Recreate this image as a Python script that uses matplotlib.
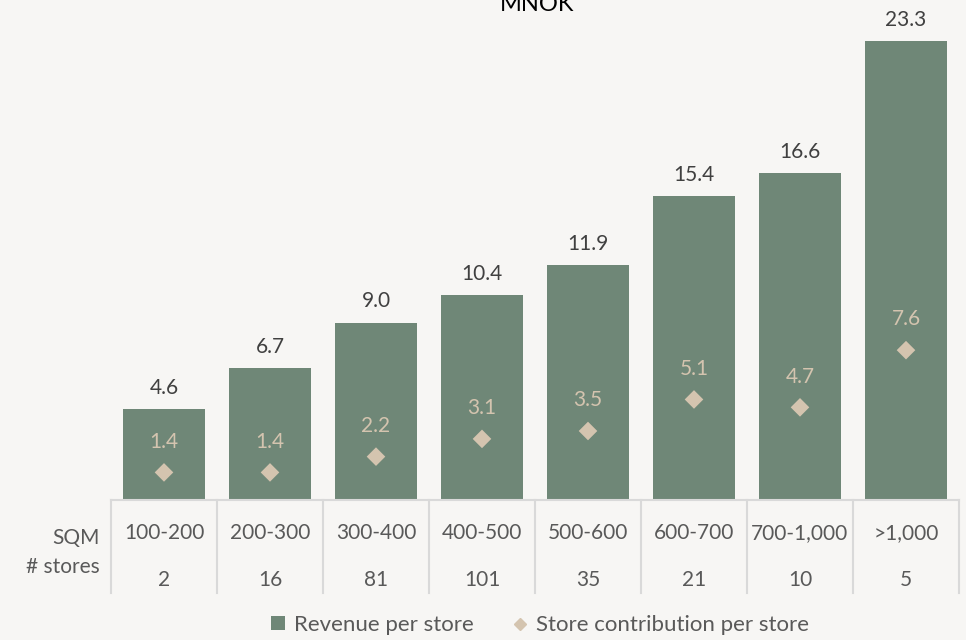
import matplotlib

matplotlib.use("Agg")
import matplotlib.pyplot as plt
import matplotlib.transforms as mtransforms
from matplotlib.lines import Line2D
from matplotlib.patches import Patch
import numpy as np

sqm_bands = ["100-200", "200-300", "300-400", "400-500", "500-600", "600-700", "700-1,000", ">1,000"]
store_counts = [2, 16, 81, 101, 35, 21, 10, 5]
revenue_per_store = [4.6, 6.7, 9.0, 10.4, 11.9, 15.4, 16.6, 23.3]
contribution_per_store = [1.4, 1.4, 2.2, 3.1, 3.5, 5.1, 4.7, 7.6]

BAR_COLOR = "#6F8777"
DIAMOND_COLOR = "#D4C4AF"
BG_COLOR = "#F7F6F4"
GRID_COLOR = "#D9D9D9"
TEXT_DARK = "#404040"
TEXT_GREY = "#595959"

plt.rcParams["font.family"] = ["Lato", "DejaVu Sans"]

W, H = 966, 640
fig = plt.figure(figsize=(W / 100, H / 100), dpi=100, facecolor=BG_COLOR)


def fy(px):
    # pixel row from the top -> figure fraction
    return 1 - px / H


ax = fig.add_axes([111 / W, fy(500), (959 - 111) / W, (500 - 17) / H])
ax.set_facecolor(BG_COLOR)

x = np.arange(len(sqm_bands))
ax.bar(x, revenue_per_store, width=0.77, color=BAR_COLOR, zorder=2)
ax.scatter(x, contribution_per_store, marker="D", s=90, color=DIAMOND_COLOR,
           edgecolors="none", zorder=3)

for xi, rev, con in zip(x, revenue_per_store, contribution_per_store):
    ax.annotate(f"{rev:.1f}", (xi, rev), xytext=(0, 8), textcoords="offset points",
                ha="center", va="bottom", fontsize=15, color=TEXT_DARK)
    ax.annotate(f"{con:.1f}", (xi, con), xytext=(0, 15), textcoords="offset points",
                ha="center", va="bottom", fontsize=15, color=DIAMOND_COLOR)

ax.set_xlim(-0.5, len(sqm_bands) - 0.5)
ax.set_ylim(0, 24.5)
for side in ["top", "right", "left"]:
    ax.spines[side].set_visible(False)
ax.spines["bottom"].set_color(GRID_COLOR)
ax.spines["bottom"].set_linewidth(1.5)
ax.set_xticks([])
ax.set_yticks([])

# table under the bars: size band and store count
trans = mtransforms.blended_transform_factory(ax.transData, fig.transFigure)
for b in np.arange(len(sqm_bands) + 1) - 0.5:
    ax.add_line(Line2D([b, b], [fy(500), fy(593)], transform=trans, color=GRID_COLOR,
                       lw=1.5, clip_on=False))
for xi, band, n in zip(x, sqm_bands, store_counts):
    ax.text(xi, fy(533), band, transform=trans, ha="center", va="center",
            fontsize=15, color=TEXT_GREY)
    ax.text(xi, fy(580), str(n), transform=trans, ha="center", va="center",
            fontsize=15, color=TEXT_GREY)

fig.text(100 / W, fy(538), "SQM", ha="right", va="center", fontsize=15, color=TEXT_GREY)
fig.text(100 / W, fy(567), "# stores", ha="right", va="center", fontsize=15, color=TEXT_GREY)

fig.text(537 / W, fy(11), "MNOK", ha="center", va="baseline", fontsize=17, color="black")

handles = [
    Patch(facecolor=BAR_COLOR, edgecolor="none", label="Revenue per store"),
    Line2D([], [], marker="D", linestyle="none", markersize=6, color=DIAMOND_COLOR,
           label="Store contribution per store"),
]
fig.legend(handles=handles, loc="center", bbox_to_anchor=(540 / W, fy(625)), ncol=2,
           frameon=False, fontsize=16, labelcolor=TEXT_GREY, handlelength=0.6,
           handleheight=0.6, handletextpad=0.4, columnspacing=1.8)

fig.savefig("out.png", dpi=100, facecolor=BG_COLOR)
